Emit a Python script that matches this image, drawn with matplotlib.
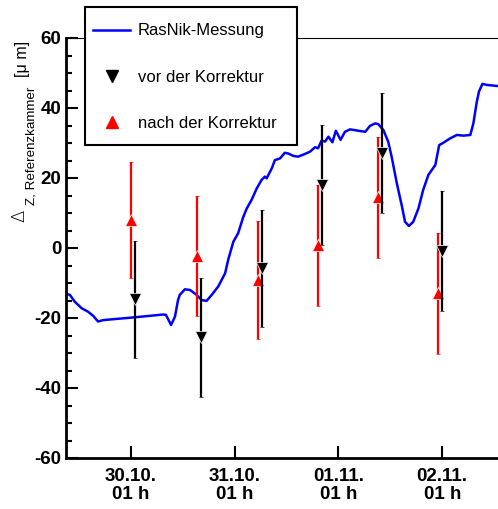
import matplotlib
matplotlib.use("Agg")
import matplotlib.pyplot as plt
from matplotlib.lines import Line2D
from matplotlib.patches import Rectangle

plt.rcParams['font.family'] = ['Liberation Sans', 'DejaVu Sans']
plt.rcParams['axes.unicode_minus'] = False

# hours relative to 30.10. 01 h
rasnik_t = [-14.9, -14.1, -13.0, -11.4, -9.9, -8.7, -7.6, -6.4, 0.9, 7.5, 8.1, 9.3,
            10.2, 10.9, 11.3, 12.5, 13.7, 15.2, 16.4, 17.5, 18.7, 20.2, 21.8, 22.5,
            23.7, 24.8, 26.0, 26.8, 27.9, 29.1, 30.2, 31.0, 31.4, 32.6, 33.3, 34.5,
            35.6, 36.4, 37.6, 38.7, 40.3, 41.4, 42.6, 43.3, 44.1, 44.9, 45.7, 46.6,
            47.4, 48.5, 49.5, 50.7, 52.6, 54.2, 55.3, 56.5, 57.2, 58.4, 59.5, 60.3,
            61.5, 62.7, 63.4, 64.3, 65.3, 66.5, 67.6, 68.8, 69.6, 70.4, 71.3, 72.3,
            73.8, 75.4, 76.9, 78.5, 79.2, 80.0, 80.5, 81.3, 82.3, 84.6, 86.0]
rasnik_v = [-13.1, -13.4, -15.3, -17.2, -18.2, -19.4, -21.0, -20.6, -19.8, -19.0, -19.1, -22.0,
            -19.6, -14.9, -13.4, -11.8, -12.0, -13.4, -14.9, -15.1, -13.4, -11.0, -7.2, -3.4,
            1.8, 4.2, 8.9, 11.3, 13.7, 17.0, 19.4, 20.4, 19.9, 22.8, 25.1, 25.6,
            27.2, 27.0, 26.3, 26.1, 26.9, 27.5, 28.8, 28.5, 30.7, 30.4, 31.8, 30.2,
            33.5, 30.9, 33.2, 33.9, 33.5, 33.2, 34.9, 35.6, 35.4, 33.7, 30.4, 26.1,
            18.5, 11.8, 7.5, 6.3, 7.5, 11.3, 16.6, 20.9, 22.3, 23.7, 29.4, 30.1,
            31.3, 32.3, 32.1, 32.3, 35.6, 41.8, 44.7, 46.9, 46.6, 46.3, 46.3]

vor_t = [0.9, 16.2, 30.3, 44.2, 58.1, 71.9]
vor_v = [-14.6, -25.5, -5.75, 18.0, 27.15, -0.8]
vor_err = [16.7, 17.0, 16.75, 17.1, 17.25, 17.2]

nach_t = [0.0, 15.3, 29.5, 43.3, 57.1, 71.0]
nach_v = [8.05, -2.25, -9.1, 0.75, 14.45, -12.95]
nach_err = [16.65, 17.15, 16.9, 17.25, 17.35, 17.35]

tick_pos = [0, 24, 48, 72]
tick_labels = ['30.10.\n01 h', '31.10.\n01 h', '01.11.\n01 h', '02.11.\n01 h']

W, H = 498, 509
fig = plt.figure(figsize=(W / 100, H / 100), dpi=100)
ax = fig.add_axes([66 / W, 51 / H, 1 - 66 / W, 420 / H])

ax.plot(rasnik_t, rasnik_v, color='#0000ff', lw=1.8, zorder=2)
ax.errorbar(nach_t, nach_v, yerr=nach_err, fmt='^', color='#ff0000', ms=8,
            mec='white', mew=0.5, elinewidth=1.6, capsize=1.5, capthick=1.6, zorder=3)
ax.errorbar(vor_t, vor_v, yerr=vor_err, fmt='v', color='black', ms=8,
            mec='white', mew=0.5, elinewidth=1.6, capsize=1.5, capthick=1.6, zorder=4)

ax.set_xlim(-15.0, 84.9)
ax.set_ylim(-60, 60)
ax.set_yticks(range(-60, 61, 20))
ax.set_yticks(range(-60, 61, 5), minor=True)
ax.set_xticks(tick_pos)
ax.set_xticklabels(tick_labels, fontweight='bold', fontsize=13.5, linespacing=1.1)
for lab in ax.get_yticklabels():
    lab.set_fontweight('bold')
    lab.set_fontsize(13.5)
ax.tick_params(axis='both', which='major', direction='in', length=8.5, width=1.5)
ax.tick_params(axis='y', which='minor', direction='in', length=4.3, width=1.5)
ax.tick_params(axis='x', which='major', pad=7)
ax.tick_params(axis='y', which='major', pad=3.5)
ax.tick_params(top=False, right=False)

ax.spines['right'].set_visible(False)
ax.spines['left'].set_linewidth(2)
ax.spines['bottom'].set_linewidth(2)
ax.spines['top'].set_linewidth(0.8)

# y-axis label built from three text pieces
fig.text(19 / W, 1 - 216 / H, '\u0394', rotation=90, ha='center', va='center',
         fontsize=13, family='DejaVu Sans', fontweight='light')
fig.text(31 / W, 1 - 145.5 / H, 'Z, Referenzkammer', rotation=90, ha='center',
         va='center', fontsize=9.6)
fig.text(22 / W, 1 - 59 / H, '[\u03bc m]', rotation=90, ha='center',
         va='center', fontsize=11.5)

# legend with a manually drawn frame
frame = Rectangle((85 / W, 1 - 145 / H), 212 / W, 138 / H, transform=fig.transFigure,
                  facecolor='white', edgecolor='black', lw=1.5, zorder=5)
fig.patches.append(frame)
handles = [Line2D([], [], color='#0000ff', lw=1.8),
           Line2D([], [], color='black', marker='v', ls='none', ms=8),
           Line2D([], [], color='#ff0000', marker='^', ls='none', ms=8)]
labels = ['RasNik-Messung', 'vor der Korrektur', 'nach der Korrektur']
leg = fig.legend(handles, labels, loc='center left', bbox_to_anchor=(93 / W, 1 - 77 / H),
                 bbox_transform=fig.transFigure, fontsize=12, frameon=False,
                 borderpad=0, labelspacing=1.87, handlelength=2.22, handletextpad=0.48,
                 borderaxespad=0)
leg.set_zorder(6)

fig.savefig('out.png', dpi=100)
